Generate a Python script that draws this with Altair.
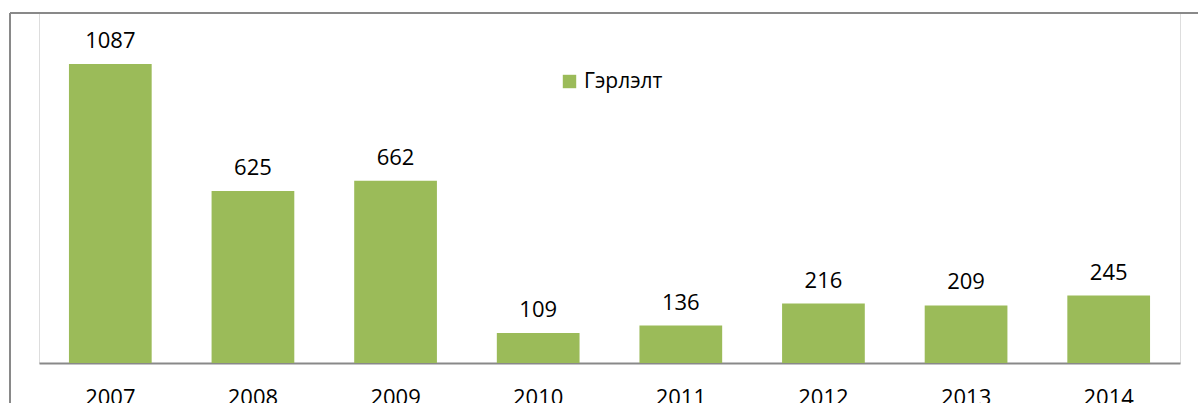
import altair as alt
import pandas as pd

years = ["2007", "2008", "2009", "2010", "2011", "2012", "2013", "2014"]
values = [1087, 625, 662, 109, 136, 216, 209, 245]
series = ["Гэрлэлт"] * len(years)

df = pd.DataFrame({"year": years, "value": values, "series": series})

FONT = "Open Sans"
GREEN = "#9BBB59"
GRAY = "#898989"

x_enc = alt.X("year:N", sort=years, title=None,
              scale=alt.Scale(paddingInner=0.42, paddingOuter=0.21),
              axis=alt.Axis(labelAngle=0, labelFontSize=22, labelFont=FONT,
                            labelColor="black", ticks=False, domainColor=GRAY,
                            domainWidth=2, labelPadding=24, grid=False))
y_enc = alt.Y("value:Q", scale=alt.Scale(domain=[0, 1272], nice=False),
              axis=None)

base = alt.Chart(df)

bars = base.mark_bar(color=GREEN).encode(
    x=x_enc,
    y=y_enc,
    color=alt.Color("series:N", scale=alt.Scale(range=[GREEN]),
                    legend=alt.Legend(title=None, orient="none", legendX=520,
                                      legendY=58, symbolType="square",
                                      symbolSize=180, symbolStrokeWidth=0,
                                      labelFontSize=21, labelFont=FONT,
                                      labelColor="black", symbolOpacity=1)),
)

labels = base.mark_text(dy=-16, baseline="alphabetic", fontSize=22,
                        font=FONT, color="black").encode(
    x=x_enc,
    y=y_enc,
    text="value:Q",
)

left_border = alt.Chart(pd.DataFrame({"a": [0]})).mark_rule(
    color=GRAY, strokeWidth=2, clip=False).encode(
    x=alt.value(-29), y=alt.value(0), y2=alt.value(400))
top_border = alt.Chart(pd.DataFrame({"a": [0]})).mark_rule(
    color=GRAY, strokeWidth=2, clip=False).encode(
    x=alt.value(-29), x2=alt.value(1170), y=alt.value(0))

chart = alt.layer(bars, labels, left_border, top_border).properties(
    width=1141, height=350,
    autosize=alt.AutoSizeParams(type="none"),
    padding={"left": 39, "top": 13, "right": 18, "bottom": 40},
).configure_view(strokeWidth=0, stroke="transparent").configure(background="white")

chart.save("out.html", embed_options={"renderer": "svg", "actions": False})
